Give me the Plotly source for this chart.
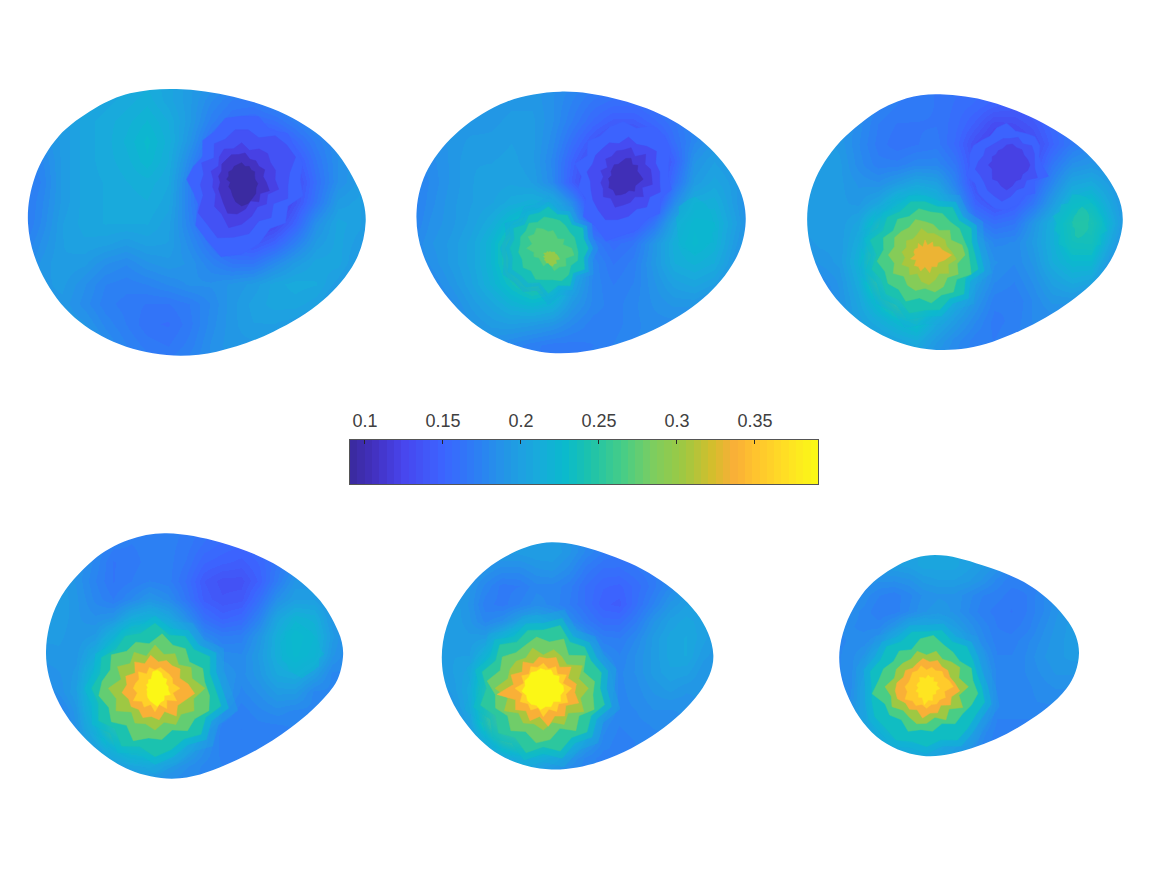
import numpy as np
import plotly.graph_objects as go

FIG_W, FIG_H = 1169, 878
C_MIN, C_MAX = 0.0904, 0.3904
N_BANDS = 64

TICK_VALUES = [0.1, 0.15, 0.2, 0.25, 0.3, 0.35]
TICK_LABELS = ["0.1", "0.15", "0.2", "0.25", "0.3", "0.35"]

# Colormap stops: data value, then RGB
COLOR_STOPS = [
    (0.0904, (58, 42, 155)), (0.105, (66, 48, 190)), (0.125, (72, 70, 238)),
    (0.150, (60, 100, 255)), (0.170, (45, 125, 245)), (0.190, (35, 150, 230)),
    (0.210, (25, 170, 220)), (0.228, (10, 186, 205)), (0.245, (30, 195, 170)),
    (0.265, (70, 205, 135)), (0.285, (125, 205, 95)), (0.305, (160, 200, 65)),
    (0.322, (210, 190, 45)), (0.337, (250, 175, 55)), (0.352, (255, 198, 45)),
    (0.372, (255, 226, 35)), (0.3904, (250, 250, 20)),
]

# Plot boxes of the six surfaces: left, top, width, height on the page
EGG_BOXES = [
    (20, 80, 360, 285), (410, 80, 345, 285), (800, 85, 330, 275),
    (40, 525, 310, 260), (435, 535, 285, 240), (835, 550, 250, 212),
]
COLORBAR_BOX = (350, 440, 468, 44)

# Boundary of each surface in its own plot units (3 units per page pixel)
EGG_1_OUTLINE = [(470,27),(640,50),(800,105),(930,195),(1015,325),(1037,425),(1005,545),(910,660),(760,755),(590,815),(440,825),(280,785),(150,700),(60,570),(24,430),(45,290),(115,170),(225,85),(330,40)]
EGG_2_OUTLINE = [(450,35),(610,55),(770,112),(900,205),(985,320),(1007,425),(975,540),(880,655),(730,750),(550,810),(390,815),(235,760),(115,655),(38,520),(20,390),(55,265),(150,150),(290,65)]
EGG_3_OUTLINE = [(420,28),(570,50),(730,115),(860,205),(950,325),(967,425),(920,545),(810,650),(660,737),(500,790),(340,785),(195,720),(85,610),(28,470),(30,330),(95,200),(215,90),(320,40)]
EGG_4_OUTLINE = [(380,25),(540,52),(700,115),(830,215),(895,320),(909,395),(880,485),(750,610),(590,705),(420,760),(270,735),(140,645),(50,520),(18,380),(55,230),(160,105),(265,45)]
EGG_5_OUTLINE = [(350,22),(500,52),(660,125),(785,235),(835,360),(795,470),(670,590),(500,678),(340,703),(195,660),(85,555),(25,420),(35,275),(120,135),(230,55)]
EGG_6_OUTLINE = [(300,15),(440,45),(590,110),(700,215),(732,310),(695,415),(570,520),(410,595),(260,617),(125,560),(35,430),(15,290),(80,135),(190,45)]

# Node values on an 18 x 15 mesh, in thousandths
EGG_1_VALUES = [
[190,190,190,195,200,205,210,205,195,190,185,185,190,190,190,190,190,190],
[185,190,195,200,205,210,215,205,195,180,170,170,180,185,190,190,190,190],
[180,190,195,205,210,215,222,212,195,172,160,155,160,172,185,190,190,190],
[175,185,195,205,210,218,228,215,190,160,140,128,138,155,172,185,190,190],
[170,178,195,205,210,215,225,212,180,148,118,108,115,140,165,185,192,190],
[165,175,195,205,208,212,215,208,172,140,108,96,105,130,160,185,195,185],
[165,178,195,205,208,210,212,205,172,142,112,98,108,135,165,195,200,180],
[165,180,198,205,208,208,208,200,175,150,125,115,125,150,185,205,200,178],
[170,185,198,202,200,195,200,198,182,162,145,138,150,172,195,205,195,175],
[175,190,198,195,185,180,188,192,188,175,165,165,180,195,205,205,190,175],
[180,192,195,185,175,172,175,180,185,185,190,195,205,210,208,195,180,180],
[185,192,192,182,172,168,165,165,170,180,192,200,205,205,200,185,180,180],
[190,195,195,190,178,170,162,160,168,182,192,198,198,195,185,180,180,180],
[195,198,200,198,185,175,168,165,172,185,192,192,190,185,180,180,180,180],
[195,198,200,198,190,180,175,172,178,185,190,190,185,180,180,180,180,180],
]
EGG_2_VALUES = [
[185,185,185,185,185,190,190,185,180,175,170,170,175,180,180,180,180,180],
[185,185,185,188,190,192,192,185,175,165,160,160,165,175,180,180,180,180],
[182,185,188,190,192,195,195,185,170,155,145,145,155,165,178,180,180,180],
[178,185,190,195,195,198,195,182,160,140,125,122,138,160,178,190,185,180],
[175,182,190,198,198,200,195,178,150,125,108,105,125,150,188,198,190,180],
[172,180,190,198,200,202,198,180,145,118,100,100,120,160,195,205,195,178],
[170,182,192,198,202,210,215,212,180,128,112,112,135,180,212,215,195,175],
[172,185,192,200,212,230,245,238,200,150,135,140,165,205,225,222,200,175],
[178,188,195,205,222,248,268,262,215,170,158,165,190,215,228,220,195,178],
[178,185,195,205,222,248,272,268,218,178,165,172,192,212,218,212,190,178],
[172,178,190,202,218,235,250,245,205,178,170,175,188,200,205,198,180,178],
[165,170,182,195,205,218,225,218,192,178,172,178,185,190,190,182,178,178],
[168,170,178,188,195,198,195,190,180,172,172,178,182,182,178,178,178,178],
[175,175,178,182,185,178,172,168,168,170,175,180,180,178,178,178,178,178],
[180,180,180,180,180,175,170,165,168,172,178,180,180,178,178,178,178,178],
]
EGG_3_VALUES = [
[185,185,185,180,175,172,168,165,162,160,158,155,158,165,170,175,175,175],
[190,190,188,182,175,170,168,165,160,155,148,145,150,158,165,172,175,175],
[195,195,190,182,170,165,165,165,158,145,130,132,140,155,165,172,175,175],
[198,198,192,180,168,162,165,168,155,132,118,120,130,150,168,178,178,175],
[198,198,195,182,172,172,178,178,165,135,112,112,135,165,185,190,185,175],
[198,198,195,188,185,195,205,200,175,135,115,125,150,178,205,210,195,178],
[198,198,195,192,205,230,240,225,192,150,135,145,165,195,225,232,205,180],
[195,198,195,205,240,265,275,255,215,172,160,165,190,215,245,250,215,180],
[190,195,195,212,262,298,320,300,245,195,178,180,195,215,240,242,205,175],
[182,190,195,218,270,315,335,310,250,205,185,180,190,212,225,225,190,175],
[172,180,190,212,258,295,310,280,232,200,180,175,185,200,210,205,178,175],
[158,170,188,205,232,262,275,240,210,190,172,170,180,190,190,180,175,175],
[160,172,190,200,212,225,235,210,195,180,168,172,180,180,178,175,175,175],
[170,178,185,190,198,205,212,195,182,172,170,175,178,175,175,175,175,175],
[175,180,185,188,192,195,195,185,178,172,175,175,175,175,175,175,175,175],
]
EGG_4_VALUES = [
[185,185,185,180,175,172,172,172,170,165,160,158,160,170,178,178,178,178],
[190,190,188,180,172,170,172,172,168,160,155,152,158,168,175,178,178,178],
[198,195,188,178,165,168,172,172,165,152,148,145,152,165,178,178,178,178],
[200,198,188,175,165,170,175,172,160,142,135,135,148,170,190,190,180,178],
[200,198,190,178,170,180,190,182,165,145,138,140,160,185,198,198,185,178],
[198,198,190,185,190,212,220,208,185,160,150,155,175,205,220,215,190,178],
[195,195,190,195,222,258,265,245,210,180,170,172,190,215,230,222,195,178],
[190,192,192,212,260,305,320,290,245,200,182,180,195,215,228,218,190,178],
[185,188,195,235,290,340,360,345,280,218,190,182,192,208,212,198,178,178],
[178,185,198,245,300,350,385,355,290,225,192,178,185,195,195,178,178,178],
[160,172,192,235,288,340,350,325,268,218,180,172,178,182,178,178,178,178],
[160,170,188,220,268,285,295,270,235,190,172,170,172,172,175,178,178,178],
[172,178,185,200,225,245,250,235,205,185,172,172,175,175,175,175,175,175],
[178,178,182,188,195,205,210,195,185,178,175,175,175,175,175,175,175,175],
[178,178,178,180,180,182,182,180,178,178,175,175,175,175,175,175,175,175],
]
EGG_5_VALUES = [
[190,190,190,190,195,195,195,195,190,180,172,172,178,185,190,190,190,190],
[192,192,192,192,195,195,198,198,190,178,170,165,170,175,185,190,190,190],
[195,195,192,188,182,182,188,190,182,168,160,160,165,170,178,190,190,190],
[198,195,190,178,168,170,178,178,172,160,152,150,158,168,180,190,190,190],
[198,198,188,172,168,175,182,178,170,160,148,145,160,175,190,198,195,190],
[198,198,190,178,185,200,208,198,182,168,158,158,170,188,200,205,200,190],
[198,198,195,198,222,245,252,240,212,185,172,170,180,195,205,208,200,190],
[198,198,198,220,255,295,310,295,250,205,182,175,185,195,205,208,195,190],
[195,198,205,245,295,335,350,335,285,225,190,178,185,195,202,200,190,190],
[190,195,210,260,325,385,395,365,305,240,195,178,182,190,195,190,190,190],
[182,190,208,258,325,375,385,350,300,238,190,178,180,185,185,185,190,190],
[170,182,200,245,300,340,350,325,270,218,182,175,178,180,180,185,190,190],
[160,172,188,215,250,270,275,260,225,195,178,172,175,178,180,185,190,190],
[160,165,172,180,205,215,215,205,190,178,172,175,175,178,180,185,190,190],
[165,170,172,178,185,190,190,185,178,175,175,175,175,178,180,185,190,190],
]
EGG_6_VALUES = [
[195,195,195,195,198,200,205,205,205,200,195,190,185,180,180,180,180,180],
[192,192,192,195,198,200,205,205,205,200,195,188,178,175,178,180,180,180],
[188,188,188,185,185,188,195,198,198,195,188,178,172,172,175,180,182,182],
[185,185,182,175,172,178,185,188,188,182,175,172,168,170,178,185,188,188],
[182,182,178,170,172,180,188,192,188,180,172,168,165,170,178,188,192,190],
[180,180,178,178,190,205,210,205,198,188,178,170,168,172,182,190,195,192],
[178,180,182,190,220,250,262,245,220,195,182,172,172,178,185,192,195,195],
[178,182,190,215,260,290,305,285,255,215,190,175,175,180,188,192,195,195],
[178,182,198,240,285,330,345,325,290,235,195,178,175,180,185,190,190,190],
[175,182,205,250,295,350,375,345,290,240,195,178,175,178,182,185,185,185],
[172,185,205,250,290,335,345,330,280,245,200,178,175,178,180,180,180,180],
[175,188,205,240,280,295,300,285,255,225,190,175,175,175,175,178,178,178],
[180,190,200,222,245,255,260,245,222,205,182,172,172,172,172,175,178,178],
[185,190,198,205,215,222,222,212,200,190,178,170,170,172,172,175,178,178],
[190,192,198,200,205,205,205,200,190,182,175,172,172,172,172,175,178,178],
]

# Faceted extreme regions: centre, then (level, 24 radii clockwise from east), outermost first
EGG_1_SPOTS = [
    ((665, 298), [
        (0.150, [175,190,160,185,170,200,225,240,210,195,150,150,165,150,135,165,165,190,190,195,170,195,185,190]),
        (0.135, [140,150,120,145,135,165,175,190,170,165,125,125,115,130,105,135,130,150,150,135,165,170,175,145]),
        (0.120, [100,115,90,105,95,115,135,150,120,115,90,90,85,95,80,95,105,95,110,90,105,110,100,105]),
        (0.105, [75,90,70,85,70,90,105,110,90,80,75,65,70,65,75,75,80,75,80,65,70,65,75,65]),
        (0.095, [40,50,50,60,65,75,80,70,55,45,45,35,45,40,45,40,45,45,50,40,45,40,45,40]),
    ]),
]
EGG_2_SPOTS = [
    ((640, 290), [
        (0.148, [135,150,130,155,145,165,175,200,170,170,130,140,125,150,125,150,140,155,165,150,175,175,165,140]),
        (0.130, [110,120,100,115,105,120,130,140,125,115,105,100,110,100,105,105,110,100,120,105,115,125,105,110]),
        (0.115, [85,90,65,85,70,80,85,95,75,85,70,70,60,70,55,75,70,80,80,90,70,95,75,85]),
        (0.103, [60,50,45,55,45,50,55,60,50,55,45,45,35,40,40,45,40,45,55,60,45,55,45,50]),
    ]),
    ((855, 430), [
        (0.226, [55,70,60,80,70,85,90,85,80,70,60,55,55,60,55,70,70,75,80,70,65,60,55,55]),
    ]),
    ((415, 505), [
        (0.238, [120,110,125,105,130,115,135,105,120,115,125,110,115,105,120,100,115,110,125,105,115,100,120,110]),
        (0.255, [90,95,85,100,105,95,95,100,85,95,85,90,85,90,85,95,85,95,90,90,85,80,85,85]),
        (0.272, [70,80,60,75,65,70,40,55,45,40,50,45,65,50,70,60,70,60,50,55,45,40,55,45]),
    ]),
    ((420, 530), [
        (0.300, [25,30,20,28,25,30,25,20,22,18,20,15,20,15,22,16,18,14,16,14,16,20,18,22]),
    ]),
]
EGG_3_SPOTS = [
    ((620, 240), [
        (0.148, [105,130,95,120,105,125,135,135,125,120,110,125,110,115,115,105,100,115,125,105,110,120,115,100]),
        (0.135, [85,100,75,85,80,95,110,100,95,85,85,95,85,75,80,75,75,80,80,90,80,95,90,85]),
        (0.122, [70,65,55,60,55,65,75,65,55,60,50,45,55,45,50,45,50,50,60,65,60,65,60,65]),
    ]),
    ((840, 415), [
        (0.232, [70,85,70,90,80,95,90,100,85,90,70,80,70,85,70,80,70,90,85,80,70,70,65,70]),
        (0.250, [25,28,30,32,35,40,45,40,25,22,25,22,25,22,25,28,30,40,50,45,40,35,30,25]),
    ]),
    ((375, 510), [
        (0.245, [150,165,140,165,150,170,165,180,155,165,150,165,145,170,145,160,150,165,160,150,165,145,160,145]),
        (0.265, [135,150,120,140,130,145,130,150,130,140,130,145,125,135,120,135,125,140,130,135,125,130,125,130]),
        (0.290, [120,100,115,95,110,115,100,110,105,90,110,95,110,95,105,100,95,110,100,95,85,105,90,115]),
        (0.310, [95,75,90,70,80,90,80,60,75,60,75,60,70,60,70,60,65,80,65,70,70,75,70,80]),
        (0.330, [80,60,45,50,40,55,35,50,40,45,30,45,30,35,35,30,40,25,45,30,45,35,50,55]),
    ]),
]
EGG_4_SPOTS = [
    ((785, 370), [
        (0.225, [55,70,60,75,75,80,90,80,75,65,70,60,60,65,60,70,65,60,70,55,60,50,55,55]),
    ]),
    ((345, 490), [
        (0.245, [180,205,175,195,175,190,205,180,200,170,195,175,190,170,185,165,180,170,195,165,180,165,190,170]),
        (0.275, [165,175,150,160,135,155,150,170,140,165,150,170,160,145,165,140,150,135,165,140,150,130,155,150]),
        (0.305, [150,120,135,110,125,105,125,110,120,100,135,120,140,105,130,105,125,100,130,105,120,100,125,115]),
        (0.335, [120,95,85,105,75,95,85,95,80,90,85,100,85,95,75,100,80,100,80,90,85,95,80,100]),
        (0.360, [75,55,75,50,70,50,70,50,65,55,75,55,65,60,55,70,50,65,55,65,60,60,60,55]),
        (0.388, [40,50,35,45,45,55,45,40,35,30,25,25,22,28,25,32,30,50,55,50,40,45,35,40]),
    ]),
]
EGG_5_SPOTS = [
    ((325, 460), [
        (0.250, [170,190,165,185,170,195,175,200,170,190,165,195,170,190,165,185,160,180,175,195,160,175,165,180]),
        (0.280, [150,165,135,160,130,155,165,140,160,135,155,145,170,140,155,135,140,155,140,160,125,160,130,155]),
        (0.310, [135,115,140,105,125,105,125,110,120,105,135,110,145,110,115,115,105,125,100,120,110,100,135,110]),
        (0.335, [95,115,85,105,90,115,85,105,85,105,90,140,90,105,80,100,80,95,90,100,80,105,80,100]),
        (0.360, [85,70,85,65,80,65,85,60,75,65,80,65,85,60,75,60,75,65,75,60,75,60,80,60]),
        (0.390, [62,55,65,50,60,55,65,55,60,60,55,65,55,60,55,60,55,60,55,60,50,60,50,60]),
    ]),
]
EGG_6_SPOTS = [
    ((275, 410), [
        (0.235, [165,180,170,175,185,165,180,170,185,175,180,170,165,175,160,170,155,170,165,175,155,170,160,155]),
        (0.265, [155,145,135,140,120,135,130,145,125,140,135,165,145,140,125,135,120,145,155,135,130,125,145,140]),
        (0.305, [125,100,125,95,115,95,110,115,105,100,120,110,125,100,105,100,95,110,95,110,95,105,115,100]),
        (0.335, [100,80,90,70,85,80,95,75,85,80,95,95,90,75,80,70,75,85,75,85,75,80,75,85]),
        (0.355, [80,55,65,55,60,55,65,55,65,60,75,60,65,55,55,60,55,65,50,60,55,65,60,70]),
        (0.375, [40,30,35,30,45,40,55,35,40,30,35,25,30,28,25,35,30,25,35,30,35,25,35,30]),
    ]),
]

EGG_OUTLINES = [EGG_1_OUTLINE, EGG_2_OUTLINE, EGG_3_OUTLINE,
                EGG_4_OUTLINE, EGG_5_OUTLINE, EGG_6_OUTLINE]
EGG_VALUES = [EGG_1_VALUES, EGG_2_VALUES, EGG_3_VALUES,
              EGG_4_VALUES, EGG_5_VALUES, EGG_6_VALUES]
EGG_SPOTS = [EGG_1_SPOTS, EGG_2_SPOTS, EGG_3_SPOTS,
             EGG_4_SPOTS, EGG_5_SPOTS, EGG_6_SPOTS]

# Soft rims outside the outermost level of a hot region: radius factor, level drop, opacity
RIMS = [(1.26, 0.036, 0.35), (1.12, 0.018, 0.6)]

STOP_VALUES = [s[0] for s in COLOR_STOPS]
BAND_CENTRES = C_MIN + (np.arange(N_BANDS) + 0.5) * (C_MAX - C_MIN) / N_BANDS
BAND_RGB = []
for v in BAND_CENTRES:
    BAND_RGB.append(tuple(int(round(np.interp(v, STOP_VALUES, [s[1][k] for s in COLOR_STOPS])))
                          for k in range(3)))
BAND_COLORS = ["rgb(%d,%d,%d)" % c for c in BAND_RGB]

BAND_SCALE = []
for k, col in enumerate(BAND_COLORS):
    BAND_SCALE += [[k / N_BANDS, col], [(k + 1) / N_BANDS, col]]


def level_color(value, alpha=1.0):
    band = int(np.clip((value - C_MIN) / (C_MAX - C_MIN) * N_BANDS, 0, N_BANDS - 1))
    return "rgba(%d,%d,%d,%.2f)" % (*BAND_RGB[band], alpha)


def outside_path(outline, width, height):
    """Page-coloured region around a closed outline, with curved boundary."""
    pad = 50
    path = (f"M {-pad} {-pad} L {width + pad} {-pad} L {width + pad} {height + pad} "
            f"L {-pad} {height + pad} Z ")
    pts = np.array(outline, float)
    n = len(pts)
    path += f"M {pts[0, 0]:.1f} {pts[0, 1]:.1f} "
    for i in range(n):
        p0, p1, p2, p3 = pts[i - 1], pts[i], pts[(i + 1) % n], pts[(i + 2) % n]
        t1 = (p2 - p0) / np.linalg.norm(p2 - p0)
        t2 = (p3 - p1) / np.linalg.norm(p3 - p1)
        reach = np.linalg.norm(p2 - p1) / 3
        c1 = p1 + t1 * reach
        c2 = p2 - t2 * reach
        path += (f"C {c1[0]:.1f} {c1[1]:.1f} {c2[0]:.1f} {c2[1]:.1f} "
                 f"{p2[0]:.1f} {p2[1]:.1f} ")
    return path + "Z"


def domain_of(box):
    left, top, w, h = box
    return [left / FIG_W, (left + w) / FIG_W], [1 - (top + h) / FIG_H, 1 - top / FIG_H]


def region_trace(cx, cy, radii, color, xname, yname, turn=0.0, line=True):
    r = np.array(radii, float)
    ang = np.deg2rad(np.arange(24) * 15 + turn)
    px = cx + r * np.cos(ang)
    py = cy + r * np.sin(ang)
    return go.Scatter(x=list(px) + [px[0]], y=list(py) + [py[0]], mode="lines", fill="toself",
                      fillcolor=color, line=dict(color=color, width=0.5 if line else 0),
                      hoverinfo="skip", showlegend=False, xaxis=xname, yaxis=yname)


fig = go.Figure()
layout = {}
shapes = []
for n, (box, vals, outline, spots) in enumerate(
        zip(EGG_BOXES, EGG_VALUES, EGG_OUTLINES, EGG_SPOTS), start=1):
    w3, h3 = box[2] * 3, box[3] * 3
    suffix = "" if n == 1 else str(n)
    xname, yname = "x" + suffix, "y" + suffix
    grid = np.array(vals, float) / 1000.0
    fig.add_trace(go.Heatmap(
        x=np.linspace(0, w3, grid.shape[1]), y=np.linspace(0, h3, grid.shape[0]), z=grid,
        zmin=C_MIN, zmax=C_MAX, zsmooth="best", colorscale=BAND_SCALE, showscale=False,
        hoverinfo="skip", xaxis=xname, yaxis=yname))
    for (cx, cy), layers in spots:
        outer_level, outer_radii = layers[0]
        if outer_level > 0.19 and len(layers) >= 3:
            for factor, drop, alpha in RIMS:
                fig.add_trace(region_trace(cx, cy, np.array(outer_radii) * factor,
                                           level_color(outer_level - drop, alpha),
                                           xname, yname, line=False))
        # Short lists are faint tints over the mesh; alternate levels are turned half a step
        alpha = 0.55 if len(layers) < 3 and len(layers[0][1]) == 24 and outer_level < 0.26 else 1.0
        for k, (level, radii) in enumerate(layers):
            fig.add_trace(region_trace(cx, cy, radii, level_color(level, alpha), xname, yname,
                                       turn=7.5 * (k % 2), line=alpha == 1.0))
    dx, dy = domain_of(box)
    layout["xaxis" + suffix] = dict(domain=dx, range=[0, w3], visible=False, anchor=yname, fixedrange=True)
    layout["yaxis" + suffix] = dict(domain=dy, range=[h3, 0], visible=False, anchor=xname, fixedrange=True)
    shapes.append(dict(type="path", path=outside_path(outline, w3, h3), xref=xname, yref=yname,
                       fillcolor="white", fillrule="evenodd", line=dict(width=0), layer="above"))

# Horizontal colour bar, one column per colormap band
fig.add_trace(go.Heatmap(x=BAND_CENTRES, y=[0], z=[list(BAND_CENTRES)], zmin=C_MIN, zmax=C_MAX,
                         colorscale=BAND_SCALE, showscale=False, hoverinfo="skip",
                         xaxis="x7", yaxis="y7"))
dx, dy = domain_of(COLORBAR_BOX)
layout["xaxis7"] = dict(domain=dx, range=[C_MIN, C_MAX], anchor="y7", side="top",
                        tickmode="array", tickvals=TICK_VALUES, ticktext=TICK_LABELS,
                        ticks="inside", ticklen=4, tickwidth=1, tickcolor="#262626",
                        tickfont=dict(family="Liberation Sans", size=18, color="#404040"),
                        ticklabelstandoff=5,
                        showline=True, mirror=True, linecolor="#555555", linewidth=1,
                        showgrid=False, zeroline=False, fixedrange=True)
layout["yaxis7"] = dict(domain=dy, range=[-0.5, 0.5], anchor="x7", showticklabels=False,
                        ticks="", showline=True, mirror=True, linecolor="#555555", linewidth=1,
                        showgrid=False, zeroline=False, fixedrange=True)

fig.update_layout(width=FIG_W, height=FIG_H, margin=dict(l=0, r=0, t=0, b=0),
                  paper_bgcolor="white", plot_bgcolor="rgba(0,0,0,0)", shapes=shapes,
                  showlegend=False, hovermode=False, **layout)
fig.write_html("out.html", config={"displayModeBar": False})
